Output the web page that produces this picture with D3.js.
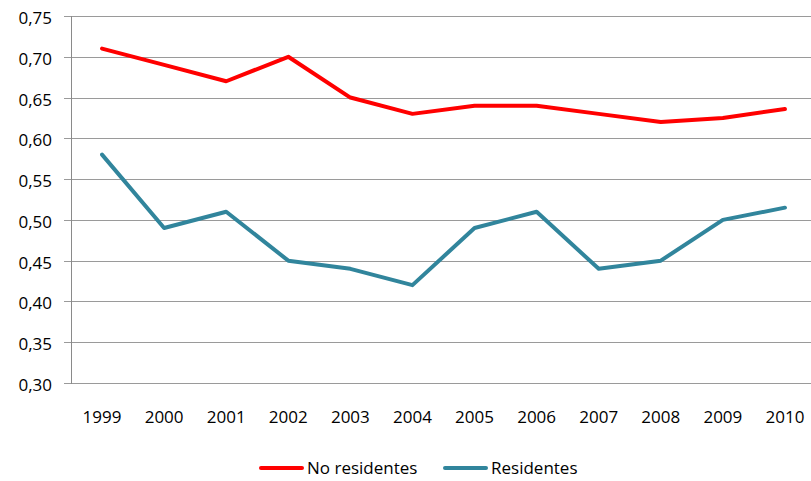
<!DOCTYPE html>
<html><head><meta charset="utf-8">
<script src="https://cdn.jsdelivr.net/npm/d3@7"></script>
<style>body{margin:0;background:#fff}svg{display:block}</style>
</head><body><div id="chart"></div>
<script>
const years = ["1999","2000","2001","2002","2003","2004","2005","2006","2007","2008","2009","2010"];
const noResidentes = [0.71,0.69,0.67,0.70,0.65,0.63,0.64,0.64,0.63,0.62,0.625,0.636];
const residentes = [0.58,0.49,0.51,0.45,0.44,0.42,0.49,0.51,0.44,0.45,0.50,0.515];
const yTicks = [0.30,0.35,0.40,0.45,0.50,0.55,0.60,0.65,0.70,0.75];
const seriesNames = ["No residentes","Residentes"];
const seriesColors = ["#ff0000","#31859c"];

const W = 811, H = 481;
const m = {left:71, right:-5, top:16, bottom:98};
const svg = d3.select("#chart").append("svg").attr("width",W).attr("height",H);
const font = "Open Sans, Liberation Sans, sans-serif";
const fs = 17;

const x = d3.scaleBand().domain(years).range([m.left, W - m.right]);
const y = d3.scaleLinear().domain([0.30,0.75]).range([H - m.bottom, m.top]);

// gridlines
svg.append("g").selectAll("line").data(yTicks).join("line")
  .attr("x1", m.left - 7).attr("x2", W)
  .attr("y1", d => Math.round(y(d)) + 0.5).attr("y2", d => Math.round(y(d)) + 0.5)
  .attr("stroke", "#9a9a9a").attr("stroke-width", 1);

// y axis line
svg.append("line").attr("x1", m.left + 0.5).attr("x2", m.left + 0.5)
  .attr("y1", Math.round(y(0.75))).attr("y2", Math.round(y(0.30)) + 1)
  .attr("stroke", "#8a8a8a");

// y labels
svg.append("g").selectAll("text").data(yTicks).join("text")
  .attr("x", 52).attr("y", d => y(d) + 8)
  .attr("text-anchor", "end").attr("font-family", font).attr("font-size", fs)
  .attr("fill", "#000")
  .text(d => d3.format(".2f")(d).replace(".", ","));

// x labels
svg.append("g").selectAll("text").data(years).join("text")
  .attr("x", d => x(d) + x.bandwidth()/2).attr("y", 423)
  .attr("text-anchor", "middle").attr("font-family", font).attr("font-size", fs)
  .attr("fill", "#000").text(d => d);

const line = d3.line().x((d,i) => x(years[i]) + x.bandwidth()/2).y(d => y(d));
[noResidentes, residentes].forEach((s, i) => {
  svg.append("path").datum(s).attr("d", line).attr("fill", "none")
    .attr("stroke", seriesColors[i]).attr("stroke-width", 4)
    .attr("stroke-linejoin", "round").attr("stroke-linecap", "round");
});

// legend
const legX = [261, 445];
seriesNames.forEach((n, i) => {
  svg.append("line").attr("x1", legX[i]).attr("x2", legX[i] + 41)
    .attr("y1", 468).attr("y2", 468).attr("stroke", seriesColors[i])
    .attr("stroke-width", 4).attr("stroke-linecap", "round");
  svg.append("text").attr("x", legX[i] + 46).attr("y", 474)
    .attr("font-family", font).attr("font-size", fs).attr("fill", "#000").text(n);
});
</script></body></html>
